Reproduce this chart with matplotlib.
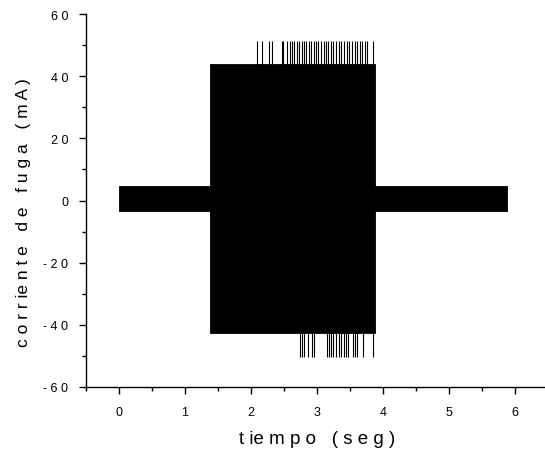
import numpy as np
import matplotlib
matplotlib.use('Agg')
from matplotlib import pyplot as plt
from matplotlib.ticker import MultipleLocator

plt.rcParams['font.family'] = ['Liberation Sans', 'DejaVu Sans']

# envelope of the leakage current (mA) per time segment (s)
seg_start = [0.0, 1.38, 3.88]
seg_end = [1.38, 3.88, 5.88]
seg_top = [4.8, 44.0, 4.8]
seg_bot = [-3.5, -42.5, -3.5]

# isolated peaks above / below the main block
peak_up_t = [2.09, 2.17, 2.27, 2.32, 2.47, 2.49, 2.55, 2.59, 2.62, 2.66, 2.70,
             2.73, 2.77, 2.80, 2.84, 2.88, 2.91, 2.95, 2.99, 3.02, 3.06, 3.10,
             3.14, 3.17, 3.21, 3.25, 3.29, 3.33, 3.37, 3.41, 3.45, 3.49, 3.53,
             3.57, 3.61, 3.65, 3.69, 3.73, 3.76, 3.85]
peak_up_v = 51.5
peak_dn_t = [2.74, 2.77, 2.80, 2.86, 2.92, 2.95, 3.15, 3.18, 3.21, 3.25, 3.29,
             3.33, 3.37, 3.41, 3.44, 3.47, 3.55, 3.58, 3.61, 3.70, 3.85]
peak_dn_v = -50.5

yticks = [-60, -40, -20, 0, 20, 40, 60]
ytick_labels = ['- 6 0', '- 4 0', '- 2 0', '0', '2 0', '4 0', '6 0']
xticks = [0, 1, 2, 3, 4, 5, 6]

fig = plt.figure(figsize=(5.45, 4.52), dpi=100)
ax = fig.add_axes([0.158, 0.1416, 0.847, 0.825])

for s, e, t, b in zip(seg_start, seg_end, seg_top, seg_bot):
    ax.fill_between([s, e], [b, b], [t, t], color='black', lw=0.6, edgecolor='black')

ax.vlines(peak_up_t, 0, peak_up_v, color='black', lw=0.8)
ax.vlines(peak_dn_t, peak_dn_v, 0, color='black', lw=0.8)

ax.set_xlim(-0.5, 6.5)
ax.set_ylim(-60, 60)
ax.set_xticks(xticks)
ax.set_yticks(yticks)
ax.set_yticklabels(ytick_labels)
ax.xaxis.set_minor_locator(MultipleLocator(0.5))
ax.yaxis.set_minor_locator(MultipleLocator(10))
ax.tick_params(which='both', direction='out', width=1.0, labelsize=9)
ax.tick_params(axis='x', pad=9)
ax.tick_params(axis='y', pad=8)
ax.tick_params(which='major', length=5)
ax.tick_params(which='minor', length=3)
ax.spines['top'].set_visible(False)
ax.spines['right'].set_visible(False)
for sp in ['left', 'bottom']:
    ax.spines[sp].set_linewidth(1.0)

ax.set_xlabel('t ie m p o   ( s e g )', fontsize=13.5, labelpad=8)
ax.set_ylabel('c o r r ie n t e   d e   f u g a   ( m A )', fontsize=12.5)
ax.yaxis.set_label_coords(-0.12, 0.47)

fig.savefig('out.png', dpi=100)
